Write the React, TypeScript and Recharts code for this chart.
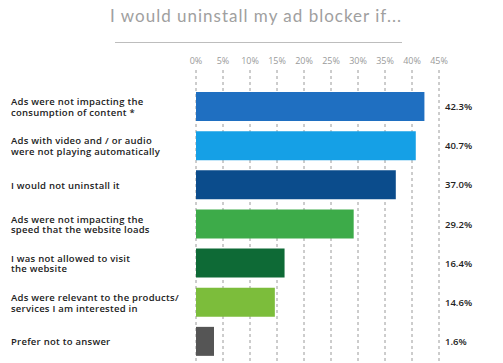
import React from "react";
import { BarChart, Bar, XAxis, YAxis, CartesianGrid, Cell } from "recharts";

const categories = [
  ["Ads were not impacting the", "consumption of content *"],
  ["Ads with video and / or audio", "were not playing automatically"],
  ["I would not uninstall it"],
  ["Ads were not impacting the", "speed that the website loads"],
  ["I was not allowed to visit", "the website"],
  ["Ads were relevant to the products/", "services I am interested in"],
  ["Prefer not to answer"],
];
const values = [42.3, 40.7, 37.0, 29.2, 16.4, 14.6, 1.6];
const valueLabels = ["42.3%", "40.7%", "37.0%", "29.2%", "16.4%", "14.6%", "1.6%"];
const barColors = ["#1f6fc1", "#15a0e6", "#0b4c8c", "#3dab49", "#0e6a36", "#7cbd3b", "#555555"];
const xTicks = [0, 5, 10, 15, 20, 25, 30, 35, 40, 45];
const title = "I would uninstall my ad blocker if...";

const data = values.map((v, i) => ({
  id: i,
  value: v,
  lines: categories[i],
  label: valueLabels[i],
}));

const LeftTick = (props: any) => {
  const { y, payload } = props;
  const lines: string[] = categories[payload.value] || [];
  const lh = 10.5;
  const y0 = y - ((lines.length - 1) * lh) / 2;
  return (
    <text
      x={11}
      y={y0}
      fontFamily="'Open Sans', sans-serif"
      fontWeight={600}
      fontSize={9.5}
      letterSpacing={0.25}
      fill="#222"
      dominantBaseline="central"
    >
      {lines.map((l, i) => (
        <tspan key={i} x={11} y={y0 + i * lh}>
          {l}
        </tspan>
      ))}
    </text>
  );
};

const RightTick = (props: any) => {
  const { x, y, payload } = props;
  return (
    <text
      x={x}
      y={y}
      fontFamily="'Open Sans', sans-serif"
      fontWeight={600}
      fontSize={9.5}
      fill="#222"
      dominantBaseline="central"
    >
      {valueLabels[payload.value]}
    </text>
  );
};

export default function App() {
  return (
    <div style={{ position: "absolute", left: 0, top: 0, width: 503, height: 363, background: "#fff" }}>
      <div
        style={{
          position: "absolute",
          left: 0,
          top: 5,
          width: 512,
          textAlign: "center",
          fontFamily: "Lato, sans-serif",
          fontSize: 17,
          letterSpacing: 1,
          color: "#a0a0a0",
        }}
      >
        {title}
      </div>
      <div
        style={{
          position: "absolute",
          left: 115,
          top: 42,
          width: 287,
          height: 1,
          background: "#bdbdbd",
        }}
      />
      <BarChart
        width={503}
        height={363}
        data={data}
        layout="vertical"
        margin={{ top: 50, right: 0, bottom: 2, left: 0 }}
        barCategoryGap={0}
      >
        <CartesianGrid horizontal={false} strokeDasharray="3 3" stroke="#9a9a9a" />
        <XAxis
          type="number"
          orientation="top"
          domain={[0, 45]}
          ticks={xTicks}
          height={20}
          axisLine={false}
          tickLine={false}
          tickSize={4}
          tickFormatter={(v: number) => `${v}%`}
          tick={{ fontSize: 9, fill: "#9a9a9a", fontFamily: "'Open Sans', sans-serif" }}
          interval={0}
        />
        <YAxis
          yAxisId="left"
          type="category"
          dataKey="id"
          width={196}
          axisLine={false}
          tickLine={false}
          tick={<LeftTick />}
          padding={{ top: 17, bottom: 0 }}
          interval={0}
        />
        <YAxis
          yAxisId="right"
          orientation="right"
          type="category"
          dataKey="id"
          width={64}
          axisLine={false}
          tickLine={false}
          tickSize={4}
          tick={<RightTick />}
          padding={{ top: 17, bottom: 0 }}
          interval={0}
        />
        <Bar dataKey="value" yAxisId="left" barSize={29} minPointSize={18} isAnimationActive={false}>
          {data.map((d, i) => (
            <Cell key={i} fill={barColors[i]} />
          ))}
        </Bar>
      </BarChart>
    </div>
  );
}
